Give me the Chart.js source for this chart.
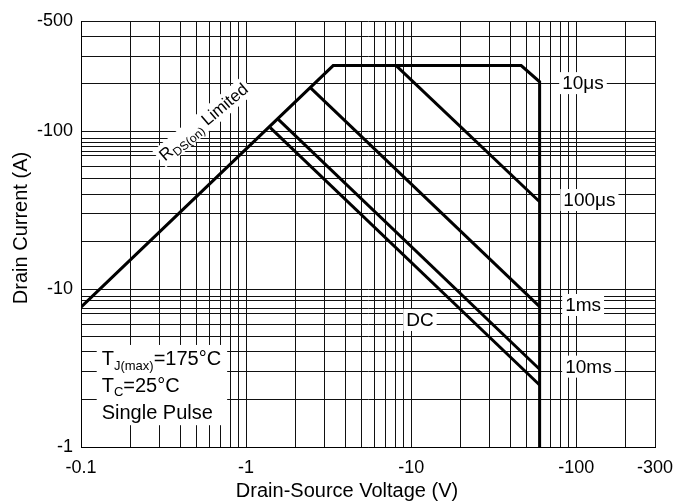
<!DOCTYPE html>
<html><head><meta charset="utf-8">
<script src="https://cdn.jsdelivr.net/npm/chart.js@4"></script>
<style>html,body{margin:0;padding:0;background:#fff;}</style>
</head><body>
<canvas id="c" width="694" height="502"></canvas>
<script>
// ---- data ----
const boundaryV = [0.1, 3.37, 46.4, 60, 60];
const boundaryI = [7.7, 261, 261, 206, 1];
const us100V = [8.11, 60];
const us100I = [261, 35.8];
const ms1V = [2.44, 60];
const ms1I = [190, 7.75];
const ms10V = [1.556, 60];
const ms10I = [120, 3.11];
const dcV = [1.40, 60];
const dcI = [105.5, 2.47];

const xMajor = [0.1, 1, 10, 100, 300];
const xTickLabels = ['-0.1', '-1', '-10', '-100', '-300'];
const yMajor = [1, 10, 100, 500];
const yTickLabels = ['-1', '-10', '-100', '-500'];
const xGrid = [0.1,0.2,0.3,0.4,0.5,0.6,0.7,0.8,0.9,1,2,3,4,5,6,7,8,9,10,20,30,40,50,60,70,80,90,100,200,300];
const yGrid = [1,2,3,4,5,6,7,7.5,8.5,9,10,20,30,40,50,60,70,75,80,85,90,100,200,300,400,500];

const curveLabels = ['10μs', '100μs', '1ms', '10ms', 'DC'];

// ---- annotation placement (data coordinates) ----
const curveLabelAt = [[82.2, 202], [83.5, 36.7], [85.7, 7.94], [85.7, 3.23], [9.33, 6.38]];
const rdsLabelAt = [0.55, 115];
const boxAt = [0.1335, [3.31, 2.24, 1.50]];

const FONT = "'Liberation Sans', Arial, sans-serif";
const f = s => s + 'px ' + FONT;
function richWidth(ctx, parts){ let w = 0; for (const p of parts){ ctx.font = f(p.s); w += ctx.measureText(p.t).width; } return w; }
function drawRich(ctx, parts, x, y){ for (const p of parts){ ctx.font = f(p.s); ctx.fillText(p.t, x, y + (p.dy || 0)); x += ctx.measureText(p.t).width; } }

const pts = (xs, ys) => xs.map((v, i) => ({x: v, y: ys[i]}));

const annot = {
  id: 'annot',
  afterDatasetsDraw(chart){
    const ctx = chart.ctx, X = chart.scales.x, Y = chart.scales.y;
    ctx.save();
    ctx.fillStyle = '#000';
    // curve labels
    curveLabels.forEach((t, i) => {
      const px = X.getPixelForValue(curveLabelAt[i][0]);
      const py = Y.getPixelForValue(curveLabelAt[i][1]);
      ctx.font = f(19);
      const w = ctx.measureText(t).width;
      ctx.fillStyle = '#fff';
      ctx.fillRect(px - 3, py - 11, w + 6, 22);
      ctx.fillStyle = '#000';
      ctx.textBaseline = 'middle';
      ctx.textAlign = 'left';
      ctx.fillText(t, px, py + 1);
    });
    // RDS(on) Limited
    {
      const parts = [{t:'R', s:17}, {t:'DS(on)', s:12, dy:4}, {t:' Limited', s:17}];
      ctx.textBaseline = 'alphabetic';
      const w = richWidth(ctx, parts);
      const cx = X.getPixelForValue(rdsLabelAt[0]), cy = Y.getPixelForValue(rdsLabelAt[1]);
      ctx.save();
      ctx.translate(cx, cy);
      ctx.rotate(-40 * Math.PI / 180);
      ctx.fillStyle = '#fff';
      ctx.fillRect(-w / 2 - 3, -10, w + 6, 21);
      ctx.fillStyle = '#000';
      drawRich(ctx, parts, -w / 2, 6);
      ctx.restore();
    }
    // conditions box
    {
      const lines = [
        [{t:'T', s:20}, {t:'J(max)', s:13, dy:5}, {t:'=175°C', s:20}],
        [{t:'T', s:20}, {t:'C', s:13, dy:4}, {t:'=25°C', s:20}],
        [{t:'Single Pulse', s:20}]
      ];
      const lx = X.getPixelForValue(boxAt[0]);
      const bl = boxAt[1].map(v => Y.getPixelForValue(v));
      let mw = 0; lines.forEach(l => mw = Math.max(mw, richWidth(ctx, l)));
      ctx.fillStyle = '#fff';
      ctx.fillRect(lx - 5, bl[0] - 20, mw + 11, bl[2] - bl[0] + 26);
      ctx.fillStyle = '#000';
      ctx.textBaseline = 'alphabetic';
      ctx.textAlign = 'left';
      lines.forEach((l, i) => drawRich(ctx, l, lx, bl[i]));
    }
    // axis titles
    ctx.font = f(20);
    ctx.textAlign = 'center';
    ctx.textBaseline = 'alphabetic';
    ctx.fillText('Drain-Source Voltage (V)', chart.width / 2, 497);
    ctx.save();
    ctx.translate(21, 228);
    ctx.rotate(-Math.PI / 2);
    ctx.textBaseline = 'middle';
    ctx.fillText('Drain Current (A)', 0, 0);
    ctx.restore();
    ctx.restore();
  }
};

Chart.defaults.font.family = FONT;
Chart.defaults.color = '#000';

const lineDs = (d) => ({data: d, showLine: true, borderColor: '#000', borderWidth: 3, pointRadius: 0, fill: false, tension: 0, borderJoinStyle: 'miter'});

new Chart(document.getElementById('c'), {
  type: 'scatter',
  data: {datasets: [
    lineDs(pts(boundaryV, boundaryI)),
    lineDs(pts(us100V, us100I)),
    lineDs(pts(ms1V, ms1I)),
    lineDs(pts(ms10V, ms10I)),
    lineDs(pts(dcV, dcI))
  ]},
  options: {
    responsive: false, animation: false, devicePixelRatio: 1,
    layout: {padding: {top: 21, right: 39, left: 0, bottom: 0}},
    plugins: {legend: {display: false}, tooltip: {enabled: false}},
    scales: {
      x: {
        type: 'logarithmic', min: 0.1, max: 300,
        afterBuildTicks: s => { s.ticks = xGrid.map(v => ({value: v})); },
        afterFit: s => { s.height = 55; },
        ticks: {autoSkip: false, maxRotation: 0, minRotation: 0, padding: 10, color: '#000', font: {size: 18},
          callback: v => { const i = xMajor.indexOf(v); return i >= 0 ? xTickLabels[i] : ''; }},
        grid: {color: '#111', lineWidth: 1, drawTicks: false},
        border: {color: '#000', width: 1}
      },
      y: {
        type: 'logarithmic', min: 1, max: 500,
        afterBuildTicks: s => { s.ticks = yGrid.map(v => ({value: v})); },
        afterFit: s => { s.width = 81; },
        ticks: {autoSkip: false, padding: 8, color: '#000', font: {size: 18},
          callback: v => { const i = yMajor.indexOf(v); return i >= 0 ? yTickLabels[i] : ''; }},
        grid: {color: '#111', lineWidth: 1, drawTicks: false},
        border: {color: '#000', width: 1}
      }
    }
  },
  plugins: [annot]
});
</script>
</body></html>
